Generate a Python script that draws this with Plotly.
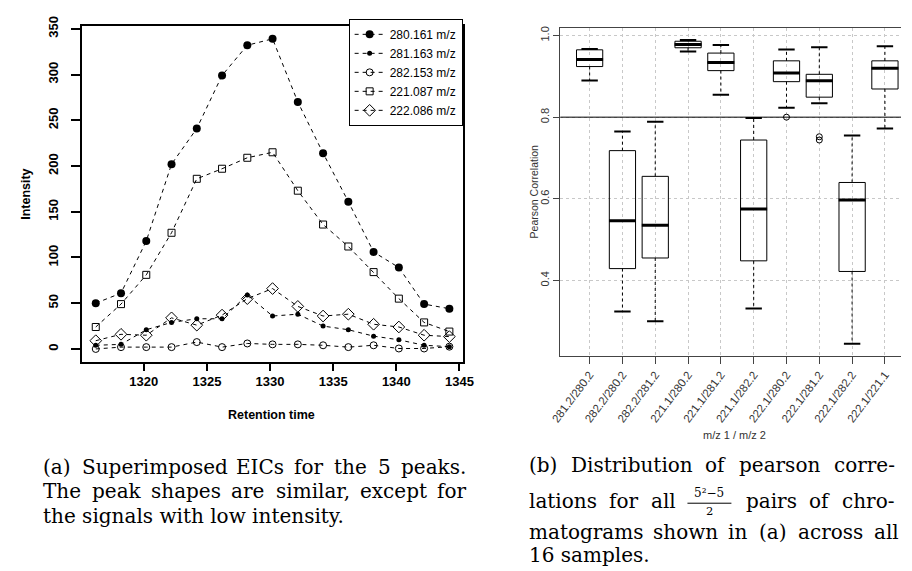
import glob
import plotly.graph_objects as go

# ---------------- data: left panel (EICs) ----------------
rt = [1316.2, 1318.2, 1320.2, 1322.2, 1324.2, 1326.2, 1328.2, 1330.2,
      1332.2, 1334.2, 1336.2, 1338.2, 1340.2, 1342.2, 1344.2]
i280 = [50, 61, 118, 202, 241, 299, 332, 339, 270, 214, 161, 106, 89, 49, 44]
i281 = [4, 5, 21, 29, 33, 33, 59, 36, 38, 25, 21, 14, 10, 4, 2.5]
i282 = [0, 2, 2, 2, 7.5, 2, 6, 5, 5, 4, 2, 4, 0.5, 0.5, 2.5]
i221 = [24, 49, 81, 127, 186, 197, 209, 215, 173, 136, 112, 84, 55, 29, 19]
i222 = [9, 16, 15, 34, 26, 37, 55, 66, 46.5, 36, 38, 27, 24, 15, 13.5]
series_names = ["280.161 m/z", "281.163 m/z", "282.153 m/z", "221.087 m/z", "222.086 m/z"]
x_ticks_left = [1320, 1325, 1330, 1335, 1340, 1345]
y_ticks_left = [0, 50, 100, 150, 200, 250, 300, 350]

# ---------------- data: right panel (boxplots) ----------------
pairs = ["281.2/280.2", "282.2/280.2", "282.2/281.2", "221.1/280.2", "221.1/281.2",
         "221.1/282.2", "222.1/280.2", "222.1/281.2", "222.1/282.2", "222.1/221.1"]
upper_whisker = [0.967, 0.765, 0.789, 0.989, 0.977, 0.798, 0.966, 0.971, 0.755, 0.974]
q3 = [0.965, 0.718, 0.655, 0.986, 0.957, 0.744, 0.938, 0.905, 0.640, 0.938]
median = [0.941, 0.546, 0.535, 0.978, 0.934, 0.575, 0.908, 0.889, 0.597, 0.920]
q1 = [0.924, 0.429, 0.455, 0.970, 0.914, 0.448, 0.887, 0.849, 0.422, 0.869]
lower_whisker = [0.890, 0.324, 0.300, 0.961, 0.855, 0.331, 0.823, 0.834, 0.245, 0.772]
outlier_pair = [7, 8, 8]
outlier_value = [0.800, 0.752, 0.744]
threshold = 0.8
y_ticks_right = [0.4, 0.6, 0.8, 1.0]

W, H = 912, 571
def fx(x):
    return x / W
def fy(y):
    return 1 - y / H

fig = go.Figure()

# ---------- left panel traces ----------
styles = [
    dict(symbol="circle", size=8, color="black"),
    dict(symbol="circle", size=5, color="black"),
    dict(symbol="circle-open", size=7, color="black", line=dict(width=1, color="black")),
    dict(symbol="square-open", size=7, color="black", line=dict(width=1, color="black")),
    dict(symbol="diamond-open", size=9, color="black", line=dict(width=1, color="black")),
]
for name, ys, st in zip(series_names, [i280, i281, i282, i221, i222], styles):
    fig.add_trace(go.Scatter(
        x=rt, y=ys, mode="lines+markers", name=name,
        line=dict(color="black", width=1, dash="4px,4px"),
        marker=st, xaxis="x", yaxis="y"))

# ---------- right panel traces ----------
idx = list(range(1, len(pairs) + 1))
fig.add_trace(go.Box(
    x=idx, q1=q1, median=median, q3=q3, lowerfence=q1, upperfence=q3,
    width=0.8, whiskerwidth=0, boxpoints=False,
    line=dict(color="black", width=1), fillcolor="rgba(255,255,255,0)",
    showlegend=False, xaxis="x2", yaxis="y2", hoverinfo="skip"))

wx, wy, cx, cy, mx, my = [], [], [], [], [], []
for i, a, b, c, d, m in zip(idx, q3, upper_whisker, q1, lower_whisker, median):
    wx += [i, i, None, i, i, None]
    wy += [a, b, None, c, d, None]
    cx += [i - 0.25, i + 0.25, None, i - 0.25, i + 0.25, None]
    cy += [b, b, None, d, d, None]
    mx += [i - 0.41, i + 0.41, None]
    my += [m, m, None]
fig.add_trace(go.Scatter(x=wx, y=wy, mode="lines", line=dict(color="black", width=1, dash="3px,3px"),
                         showlegend=False, xaxis="x2", yaxis="y2", hoverinfo="skip"))
fig.add_trace(go.Scatter(x=cx, y=cy, mode="lines", line=dict(color="black", width=2),
                         showlegend=False, xaxis="x2", yaxis="y2", hoverinfo="skip"))
fig.add_trace(go.Scatter(x=mx, y=my, mode="lines", line=dict(color="black", width=3),
                         showlegend=False, xaxis="x2", yaxis="y2", hoverinfo="skip"))
fig.add_trace(go.Scatter(x=outlier_pair, y=outlier_value, mode="markers",
                         marker=dict(symbol="circle-open", size=6, color="black", line=dict(width=1)),
                         showlegend=False, xaxis="x2", yaxis="y2", hoverinfo="skip"))

sans = "Liberation Sans, Arial, sans-serif"
serif = "DejaVu Serif, serif"

fig.update_layout(
    width=W, height=H, margin=dict(l=0, r=0, t=0, b=0),
    paper_bgcolor="white", plot_bgcolor="white",
    font=dict(family=sans, color="black"),
    xaxis=dict(domain=[fx(73.3), fx(463.3)], range=[1315.08, 1345.25],
               tickvals=x_ticks_left, showline=True, mirror=True, linecolor="black", linewidth=1.5,
               ticks="outside", ticklen=7, tickcolor="black", tickwidth=1.5,
               tickfont=dict(size=13, family=sans, weight="bold"),
               showgrid=False, zeroline=False, anchor="y"),
    yaxis=dict(domain=[fy(358.3), fy(16.7)], range=[-14.3, 352.6],
               tickvals=y_ticks_left, showline=True, mirror=True, linecolor="black", linewidth=1.5,
               ticks="outside", ticklen=9, tickcolor="black", tickwidth=1.5, tickangle=-90,
               ticklabelstandoff=8,
               tickfont=dict(size=13, family=sans, weight="bold"),
               showgrid=False, zeroline=False, anchor="x"),
    xaxis2=dict(domain=[fx(563.3), 1.0], range=[0.107, 10.49],
                tickvals=idx, ticktext=pairs, tickangle=-53,
                showline=True, mirror=True, linecolor="#444", linewidth=1,
                ticks="outside", ticklen=7, tickcolor="#444",
                tickfont=dict(size=11.5, family=sans, color="#333"),
                showgrid=True, gridcolor="#c8c8c8", griddash="dot", gridwidth=1,
                zeroline=False, anchor="y2"),
    yaxis2=dict(domain=[fy(351.7), fy(18.3)], range=[0.216, 1.0185],
                tickvals=y_ticks_right, ticktext=["0.4", "0.6", "0.8", "1.0"], tickangle=-90,
                showline=True, mirror=False, linecolor="#444", linewidth=1,
                ticks="outside", ticklen=6, tickcolor="#444",
                tickfont=dict(size=11, family=sans, color="#333"),
                showgrid=True, gridcolor="#c8c8c8", griddash="dot", gridwidth=1,
                zeroline=False, anchor="x2"),
    legend=dict(x=fx(463.3), xanchor="right", y=fy(9), yanchor="top",
                bordercolor="black", borderwidth=1, bgcolor="white",
                font=dict(size=12, family=sans), tracegroupgap=0, itemwidth=30),
    shapes=[dict(type="line", xref="x2 domain", yref="y2", x0=0, x1=1, y0=threshold, y1=threshold,
                 line=dict(color="black", width=1))],
)

# ---------- text measurement for justified captions ----------
CW = {" ": .318, "(": .390, ")": .390, "a": .596, "b": .640, "c": .560, "d": .640, "e": .592,
      "f": .370, "g": .640, "h": .644, "i": .320, "j": .310, "k": .606, "l": .320, "m": .948,
      "n": .644, "o": .602, "p": .640, "q": .640, "r": .478, "s": .513, "t": .402, "u": .644,
      "v": .565, "w": .856, "x": .564, "y": .565, "z": .527, ".": .318, ",": .318, "-": .338,
      "S": .685, "E": .730, "I": .365, "C": .734, "T": .669, "D": .771}
_font = None
try:
    from PIL import ImageFont
    for p in glob.glob("/usr/share/fonts/**/DejaVuSerif.ttf", recursive=True):
        try:
            _font = ImageFont.truetype(p, 200)
            break
        except Exception:
            pass
except Exception:
    _font = None

def text_width(s, size):
    if _font is not None:
        try:
            return _font.getlength(s) * size / 200.0
        except Exception:
            pass
    return sum(CW.get(ch, 0.636) for ch in s) * size

CAP = 20
ann = []
frac_shapes = []

def cap_text(t, x, y, anchor="left"):
    ann.append(dict(text=t, x=fx(x), y=fy(y), xanchor=anchor, borderpad=0,
                    font=dict(size=CAP, family=serif)))

def justify(items, left, right, y):
    widths = []
    for it in items:
        widths.append(it[1] if isinstance(it, tuple) else text_width(it, CAP))
    gap = (right - left - sum(widths)) / max(len(items) - 1, 1)
    gap = max(gap, 3)
    x = left
    for it, w in zip(items, widths):
        if isinstance(it, tuple):
            cxp = x + w / 2
            ann.append(dict(text="5\u00b2\u22125", x=fx(cxp), y=fy(y - 8), xanchor="center", borderpad=0,
                            font=dict(size=12, family=serif)))
            ann.append(dict(text="2", x=fx(cxp), y=fy(y + 10), xanchor="center", borderpad=0,
                            font=dict(size=11.5, family=serif)))
            frac_shapes.append(dict(type="line", xref="paper", yref="paper", x0=fx(x), x1=fx(x + w),
                                    y0=fy(y + 2), y1=fy(y + 2), line=dict(color="black", width=1)))
        else:
            cap_text(it, x, y)
        x += w + gap

justify("(a) Superimposed EICs for the 5 peaks.".split(), 33, 465, 465)
justify("The peak shapes are similar, except for".split(), 33, 465, 490)
cap_text("the signals with low intensity.", 33, 515)
justify("(b) Distribution of pearson corre-".split(), 530, 903, 463)
justify(["lations", "for", "all", ("frac", 45), "pairs", "of", "chro-"], 530, 903, 500)
justify("matograms shown in (a) across all".split(), 530, 908, 531)
cap_text("16 samples.", 530, 555)

ann.append(dict(text="<b>Intensity</b>", x=fx(17), y=fy(187.5), textangle=-90, xanchor="center",
                font=dict(size=12.5, family=sans)))
ann.append(dict(text="<b>Retention time</b>", x=fx(268), y=fy(412), xanchor="center",
                font=dict(size=12.5, family=sans)))
ann.append(dict(text="Pearson Correlation", x=fx(536), y=fy(185), textangle=-90, xanchor="center",
                font=dict(size=10.5, family=sans, color="#333")))
ann.append(dict(text="m/z 1 / m/z 2", x=fx(742), y=fy(433), xanchor="center",
                font=dict(size=11, family=sans, color="#333")))

for a in ann:
    a.setdefault("xref", "paper")
    a.setdefault("yref", "paper")
    a.setdefault("showarrow", False)
    a.setdefault("yanchor", "middle")
fig.update_layout(annotations=ann)
for s in frac_shapes:
    fig.add_shape(**s)

fig.write_html("out.html")
